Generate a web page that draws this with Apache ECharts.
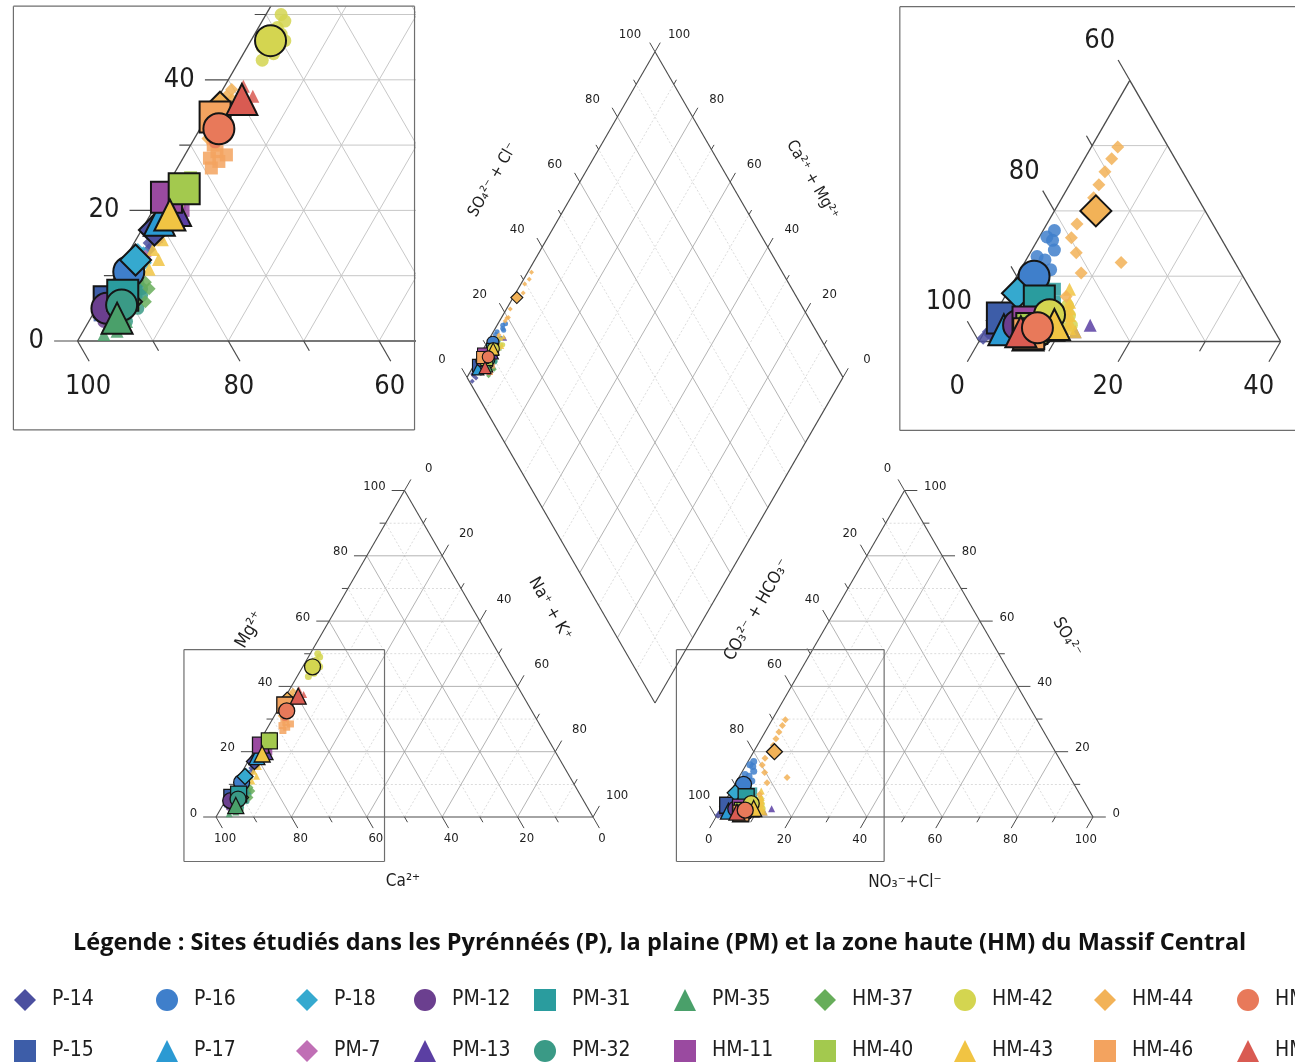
<!DOCTYPE html>
<html><head><meta charset="utf-8">
<script src="https://cdn.jsdelivr.net/npm/echarts@6/dist/echarts.min.js"></script>
<style>html,body{margin:0;padding:0;background:#fff}#c{width:1295px;height:1062px}</style>
</head><body><div id="c"></div>
<script>
// ---------------- DATA ----------------
const siteNames   = ['P-14','P-15','P-16','P-17','P-18','PM-7','PM-12','PM-13','PM-31','PM-32','PM-35','HM-11','HM-37','HM-40','HM-42','HM-43','HM-44','HM-46','HM-47','HM-45'];
// mean composition of each site (% meq): Mg2+, Na+ + K+, SO4 2-, NO3- + Cl-
const meanMg  = [17, 6, 10.6, 18.5, 12.4, 19, 5, 20, 7, 5.5, 3.5, 22, 6, 23.3, 46, 19.3, 35.8, 34.3, 37, 32.5];
const meanNaK = [1.7, 1.2, 1.5, 1.6, 1.5, 2.4, 1.4, 3, 2.5, 3.1, 3.5, 0.8, 3.5, 2.5, 2.6, 2.6, 1.0, 1.1, 3.3, 2.5];
const meanSO4 = [3.2, 3.6, 10, 1.8, 7.4, 2, 2.5, 2.5, 6.2, 1.5, 1, 3, 2, 2, 4.1, 2.6, 20, 1.2, 1.5, 2.1];
const meanCl  = [1.5, 1.3, 2.3, 2.4, 1.4, 3, 4, 8, 4.9, 7, 6, 5, 5, 6, 7.3, 8.7, 5.5, 6, 4.8, 6.7];
// individual samples: [Mg, Na+K, SO4, Cl]
const samplesP14  = [[15,2,0.5,0.3],[16.5,1,1,1],[18,1.5,1.5,0.5],[14,2.5,0.8,1.5]];
const samplesP15  = [[4,1,3,1],[5,1.5,4.5,0.8],[6.5,1,2.5,2],[7.5,2,4,1.5]];
const samplesP16  = [[7,2,17,1.5],[8.5,1.5,15.5,2],[10,2.5,14,3],[11.5,1,12.5,2.5],[9,3,11,4],[12,2,16,1],[10.5,1,13,1.2]];
const samplesP17  = [[16,2.5,1,3],[17.5,3,2.5,2],[19,2,3,1.5],[20,1.5,1.5,3.5]];
const samplesP18  = [[11,2,8.5,1],[12,3,6.5,2],[13.5,2,9.5,2.5],[14,1,5.5,1.8]];
const samplesPM7  = [[13,2.5,2.5,2.5],[15.5,3,1.5,3.5]];
const samplesPM12 = [[3,2,2,3],[4,1.5,3,4.5],[6,2,2.5,5],[7,3,3.5,3.5]];
const samplesPM13 = [[18,4,2.5,13.5],[19,3,1.5,12],[21,2.5,2,10]];
const samplesPM31 = [[5,3,9,4],[6,2.5,8,6],[8,3,7,5],[7.5,4,6,7],[6.5,3.5,5,6.5]];
const samplesPM32 = [[2,4,1,7],[3,5,2,8],[4,4.5,1.5,6],[5,5.5,0.8,7.5],[6,4,2.5,6.5],[7,5,1.2,8.5],[8,4.5,2,7],[9,3.5,1,6]];
const samplesPM35 = [[1,3,0.5,5],[1.5,4.5,1,6.5],[2.5,3.5,1.5,5.5],[3,5,0.8,7],[4,4,1.2,6]];
const samplesHM11 = [[19.5,3.5,3.5,5.5],[21,3,2.5,4.5],[22.5,1.5,3,6],[20,4,4,5]];
const samplesHM37 = [[5,5,2,5],[6,6,2.5,6],[8,5.5,1.5,4.5],[9,4.5,3,5.5]];
const samplesHM40 = [[21.5,2.5,2,6.5],[22.5,3,1.5,5.5],[24,2,2.5,6],[25,2.5,3,7]];
const samplesHM42 = [[43,3,3,9],[44,4,4,10],[45,2,2.5,11],[47,3.5,5,8],[48,2.5,3.5,8.5],[49,3,4.5,7.5],[50,2,2,10],[46,4.5,5.5,9]];
const samplesHM43 = [[11,4,2,11],[12.5,4.5,4,10],[14,3,6,9],[15.5,3.5,8,8],[17,2.5,1.5,12],[18.5,3,3,10.5],[20,2,5,9.5]];
const samplesHM44 = [[33,1,29.8,3.5],[34.5,1.5,28,3.6],[36,1,26,3.7],[37,2,24,3.9],[38.5,1.2,22,4.2],[31,1.8,15.9,4.3],[32,1.5,13.6,6.1],[35,0.8,12.1,12.8],[36.5,1.5,10.5,8.3],[34,2,6.9,8.1],[37.5,1,18,4]];
const samplesHM46 = [[26.5,4.5,1,6],[27.5,5,1.5,7],[28,3.5,0.8,5.5],[29,4,1.2,6.5],[30,3,2,7],[31,2.5,1,5],[32,2,1.5,6],[28.5,5.5,0.5,6.5]];
const samplesHM47 = [[35.5,4,1,5],[36,5,2,4.5],[37.5,4.5,1.5,5.5],[38,3,1,4],[39,2.5,2.5,5],[36.5,3.5,1.8,4.2]];
const samplesHM45 = [[30.5,3,2.5,7],[31.5,4,1.5,8],[33,3.5,3,6],[34,2,2,7.5]];
const siteSamples = [samplesP14,samplesP15,samplesP16,samplesP17,samplesP18,samplesPM7,samplesPM12,samplesPM13,samplesPM31,samplesPM32,samplesPM35,samplesHM11,samplesHM37,samplesHM40,samplesHM42,samplesHM43,samplesHM44,samplesHM46,samplesHM47,samplesHM45];
// axis ticks
const tickValues  = [0,10,20,30,40,50,60,70,80,90,100];
const gridValues  = [10,20,30,40,50,60,70,80,90];
const labelValues = [0,20,40,60,80,100];
const zoomAnionLimit = 40;   // top-right inset shows CO3+HCO3 from 60 to 100
// legend layout (column-wise)
const legendCols = [['P-14','P-15'],['P-16','P-17'],['P-18','PM-7'],['PM-12','PM-13'],['PM-31','PM-32'],['PM-35','HM-11'],['HM-37','HM-40'],['HM-42','HM-43'],['HM-44','HM-46'],['HM-45','HM-47']];
const legendTitle = 'Légende : Sites étudiés dans les Pyrénnéés (P), la plaine (PM) et la zone haute (HM) du Massif Central';

// ---------------- STYLE ----------------
const siteSymbols = ['diamond','rect','circle','triangle','diamond','diamond','circle','triangle','rect','circle','triangle','rect','diamond','rect','circle','triangle','diamond','rect','triangle','circle'];
const siteColors  = ['#4b4f9f','#3d5da8','#3f7fcb','#2b9ad3','#35a9cf','#c06fb5','#6b3f8f','#5b3fa3','#2a9c9e','#3a9a86','#4aa06a','#9a4aa0','#67ad5a','#a3c94e','#d4d550','#f1c443','#f2b257','#f3a35f','#d95b52','#e8795a'];
const meanDrawOrder = [12,5,7,0,1,2,3,4,6,8,9,10,11,13,14,15,16,17,18,19];
const FONT = '"DejaVu Sans Condensed","DejaVu Sans",sans-serif';
const U = Math.sqrt(3) / 2;
const STY = {
  edge:  {stroke:'#4a4a4a', lineWidth:1.1},
  major: {stroke:'#a0a0a0', lineWidth:0.8},
  minor: {stroke:'#cdcdcd', lineWidth:0.7, lineDash:[2,2]},
  light: {stroke:'#c4c4c4', lineWidth:0.8},
  tick:  {stroke:'#4a4a4a', lineWidth:1},
  box:   {stroke:'#6e6e6e', lineWidth:1.2}
};
const zoomBoxCat = [-8.5, -11.8, 44.7, 44.4];
const zoomBoxAn  = [-10.5, -11.8, 44.6, 44.4];

// panels: origin (px) of ternary unit (0,0), px per unit, unit extent (grid kept inside canvas)
const panels = [
  {id:'cat',  ox:216,  oy:817,   s:3.77, x0:-25, x1:125, y0:-25, y1:105, clip:false, big:16, small:7,  bw:1.3, lw:1},
  {id:'an',   ox:716,  oy:817,   s:3.77, x0:-25, x1:125, y0:-25, y1:105, clip:false, big:16, small:7,  bw:1.3, lw:1},
  {id:'dia',  ox:655,  oy:703,   s:3.76, x0:-62, x1:62,  y0:-5,  y1:185, clip:false, big:12, small:5,  bw:1.1, lw:1},
  {id:'catZ', ox:77.5, oy:341,   s:7.54, x0:zoomBoxCat[0], x1:zoomBoxCat[2], y0:zoomBoxCat[1], y1:zoomBoxCat[3], clip:true, big:31, small:13, bw:2, lw:1.2, box:zoomBoxCat},
  {id:'anZ',  ox:979,  oy:341.5, s:7.54, x0:zoomBoxAn[0],  x1:41.9,          y0:zoomBoxAn[1],  y1:zoomBoxAn[3],  clip:true, big:31, small:13, bw:2, lw:1.2, box:zoomBoxAn, openRight:true}
];

// ---------------- TRANSFORMS ----------------
function catXY(mg, nak) { return [nak + mg / 2, mg * U]; }
function anXY(so4, cl)  { return [cl + so4 / 2, so4 * U]; }
function diaXY(a, b)    { return [(a - b) / 2, (a + b) * U]; } // a = SO4+Cl, b = Ca+Mg
function project(id, mg, nak, so4, cl) {
  if (id === 'cat' || id === 'catZ') return catXY(mg, nak);
  if (id === 'an' || id === 'anZ') return anXY(so4, cl);
  return diaXY(so4 + cl, 100 - nak);
}

// ---------------- FRAMES ----------------
function builder(fs) {
  const E = [];
  return {
    E,
    L: (x1,y1,x2,y2,st) => E.push({t:'l', p:[x1,y1,x2,y2], st}),
    T: (x,y,text,extra) => E.push(Object.assign({t:'t', p:[x,y], text, fs}, extra||{}))
  };
}
function triFrame(kind, o) {
  const {E, L, T} = builder(o.fs);
  gridValues.forEach(k => {
    const st = o.gridStyle || (k % 20 === 0 ? 'major' : 'minor');
    L(k/2, k*U, 100-k/2, k*U, st);
    L(k, 0, k+(100-k)/2, (100-k)*U, st);
    L(100-k, 0, (100-k)/2, (100-k)*U, st);
  });
  L(0,0,100,0,'edge'); L(0,0,50,100*U,'edge'); L(100,0,50,100*U,'edge');
  tickValues.forEach(k => {
    const len = k % 20 === 0 ? o.len : o.minLen;
    const lab = labelValues.indexOf(k) >= 0;
    let bx, by;
    if (kind === 'cat') {
      bx = k/2; by = k*U;               // Mg (left)
      L(bx, by, bx-len, by, 'tick');
      if (lab) T(bx-o.leftGap, by+o.leftDy, String(k), {align:'right'});
      bx = 100-k; by = 0;               // Ca (bottom)
      L(bx, by, bx+len*0.5, by-len*U, 'tick');
      if (lab) T(bx+o.botOff[0], by+o.botOff[1], String(k));
      bx = 50+k/2; by = (100-k)*U;      // Na+K (right)
      L(bx, by, bx+len*0.5, by+len*U, 'tick');
      if (lab) T(bx+o.sideOff[0], by+o.sideOff[1], String(k));
    } else {
      bx = k; by = 0;                   // NO3+Cl (bottom)
      L(bx, by, bx-len*0.5, by-len*U, 'tick');
      if (lab) T(bx+o.botOff[0], by+o.botOff[1], String(k));
      bx = 100-k/2; by = k*U;           // SO4 (right)
      L(bx, by, bx+len, by, 'tick');
      if (lab) T(bx+o.rightGap, by+o.rightDy, String(k), {align:'left'});
      bx = (100-k)/2; by = (100-k)*U;   // CO3+HCO3 (left)
      L(bx, by, bx-len*0.5, by+len*U, 'tick');
      if (lab) T(bx+o.sideOff[0], by+o.sideOff[1], String(k));
    }
  });
  if (o.box) { const b = o.box; L(b[0],b[1],b[2],b[1],'box'); L(b[2],b[1],b[2],b[3],'box'); L(b[2],b[3],b[0],b[3],'box'); L(b[0],b[3],b[0],b[1],'box'); }
  (o.titles||[]).forEach(tt => T(tt[0], tt[1], tt[2], {fs:tt[4], rot:tt[3]*Math.PI/180}));
  return E;
}
// anion sub-triangle (CO3+HCO3 >= 100-lim) used by the top-right inset
function anSubFrame(lim, o) {
  const {E, L, T} = builder(o.fs);
  gridValues.filter(k => k < lim).forEach(k => {
    L(k/2, k*U, lim-k/2, k*U, 'light');
    L(k, 0, k+(lim-k)/2, (lim-k)*U, 'light');
    L(k, 0, k/2, k*U, 'light');
  });
  L(0,0,lim,0,'edge'); L(0,0,lim/2,lim*U,'edge'); L(lim,0,lim/2,lim*U,'edge');
  tickValues.filter(k => k <= lim).forEach(k => {
    const len = k % 20 === 0 ? o.len : o.minLen;
    const lab = labelValues.indexOf(k) >= 0;
    L(k, 0, k-len*0.5, -len*U, 'tick');                       // NO3+Cl
    if (lab) T(k+o.botOff[0], o.botOff[1], String(k));
    const bx = k/2, by = k*U;                                  // CO3+HCO3 = 100-k
    L(bx, by, bx-len*0.5, by+len*U, 'tick');
    if (lab) T(bx+o.sideOff[0], by+o.sideOff[1], String(100-k));
  });
  return E;
}
function diaFrame(o) {
  const {E, T} = builder(o.fs);
  const L = (p1,p2,st) => E.push({t:'l', p:[p1[0],p1[1],p2[0],p2[1]], st});
  gridValues.forEach(k => {
    const st = k % 20 === 0 ? 'major' : 'minor';
    L(diaXY(k,0), diaXY(k,100), st);
    L(diaXY(0,k), diaXY(100,k), st);
  });
  L(diaXY(0,0), diaXY(0,100), 'edge'); L(diaXY(0,100), diaXY(100,100), 'edge');
  L(diaXY(100,100), diaXY(100,0), 'edge'); L(diaXY(100,0), diaXY(0,0), 'edge');
  tickValues.forEach(k => {
    const len = k % 20 === 0 ? o.len : o.minLen;
    const lab = labelValues.indexOf(k) >= 0;
    let b = diaXY(k, 100);
    L(b, [b[0]-len*0.5, b[1]+len*U], 'tick');
    if (lab) T(b[0]+o.ulOff[0], b[1]+o.ulOff[1], String(k));
    b = diaXY(100, k);
    L(b, [b[0]+len*0.5, b[1]+len*U], 'tick');
    if (lab) T(b[0]+o.urOff[0], b[1]+o.urOff[1], String(k));
  });
  (o.titles||[]).forEach(tt => T(tt[0], tt[1], tt[2], {fs:tt[4], rot:tt[3]*Math.PI/180}));
  return E;
}

const frames = {
  cat: triFrame('cat', {fs:13, len:3.4, minLen:1.6, leftGap:5.0, leftDy:1.0, botOff:[2.4,-5.8], sideOff:[6.4,5.8], box:zoomBoxCat,
        titles:[[49.6,-17.0,'Ca²⁺',0,17],[9.0,49.6,'Mg²⁺',60,18],[88.6,55.2,'Na⁺ + K⁺',-60,17]]}),
  an:  triFrame('an',  {fs:13, len:3.4, minLen:1.6, rightGap:5.2, rightDy:1.0, botOff:[-1.9,-6.1], sideOff:[-4.5,5.8], box:zoomBoxAn,
        titles:[[50.1,-17.5,'NO₃⁻+Cl⁻',0,17],[10.9,54.9,'CO₃²⁻ + HCO₃⁻',60,17],[93.1,47.7,'SO₄²⁻',-60,17]]}),
  dia: diaFrame({fs:13, len:2.8, minLen:1.4, ulOff:[-6.65,4.65], urOff:[6.4,4.65],
        titles:[[-43.1,139.1,'SO₄²⁻ + Cl⁻',60,16],[41.8,139.1,'Ca²⁺ + Mg²⁺',-60,16]]}),
  catZ: triFrame('cat', {fs:27, len:3.1, minLen:1.5, leftGap:4.45, leftDy:0, botOff:[1.4,-6.06], sideOff:[4,5.5], gridStyle:'light'}),
  anZ:  anSubFrame(zoomAnionLimit, {fs:27, len:3.1, minLen:1.5, botOff:[-2.9,-6.0], sideOff:[-4.0,5.2]})
};
function boxFrame(b, openRight) {
  const segs = [[b[0],b[1],b[2],b[1]],[b[2],b[3],b[0],b[3]],[b[0],b[3],b[0],b[1]]];
  if (!openRight) segs.push([b[2],b[1],b[2],b[3]]);
  return segs.map(p => ({t:'l', p, st:'box'}));
}

function frameSeries(gi, elems, lw, clip, z) {
  return {
    type:'custom', xAxisIndex:gi, yAxisIndex:gi, clip:clip, silent:true, z:z, animation:false,
    data: elems.map(e => [e.p[0], e.p[1]]),
    renderItem: function (params, api) {
      const e = elems[params.dataIndex];
      if (e.t === 'l') {
        const a = api.coord([e.p[0], e.p[1]]), b = api.coord([e.p[2], e.p[3]]);
        const s = STY[e.st];
        const style = {stroke:s.stroke, lineWidth:s.lineWidth*lw, fill:null};
        if (s.lineDash) style.lineDash = s.lineDash;
        return {type:'line', shape:{x1:a[0], y1:a[1], x2:b[0], y2:b[1]}, style};
      }
      const a = api.coord([e.p[0], e.p[1]]);
      return {type:'text', x:a[0], y:a[1], rotation:e.rot||0,
        style:{text:e.text, fill:'#1e1e1e', fontSize:e.fs, fontFamily:FONT, align:e.align||'center', verticalAlign:'middle'}};
    }
  };
}

// ---------------- OPTION ----------------
const grid = [], xAxis = [], yAxis = [], series = [];
panels.forEach((p, gi) => {
  grid.push({left:p.ox + p.x0*p.s, top:p.oy - p.y1*p.s, width:(p.x1-p.x0)*p.s, height:(p.y1-p.y0)*p.s, show:false});
  xAxis.push({type:'value', gridIndex:gi, min:p.x0, max:p.x1, show:false});
  yAxis.push({type:'value', gridIndex:gi, min:p.y0, max:p.y1, show:false});
  series.push(frameSeries(gi, frames[p.id], p.lw, p.clip, 1));
  if (p.box) series.push(frameSeries(gi, boxFrame(p.box, p.openRight), 1, false, 6));
  siteNames.forEach((name, i) => {
    series.push({
      type:'scatter', name, xAxisIndex:gi, yAxisIndex:gi, symbol:siteSymbols[i], symbolSize:p.small,
      data: siteSamples[i].map(r => project(p.id, r[0], r[1], r[2], r[3])),
      itemStyle:{color:siteColors[i], opacity:0.85}, z:3, silent:true, animation:false, clip:p.clip
    });
  });
  meanDrawOrder.forEach(i => {
    series.push({
      type:'scatter', name:siteNames[i], xAxisIndex:gi, yAxisIndex:gi, symbol:siteSymbols[i], symbolSize:p.big,
      data: [project(p.id, meanMg[i], meanNaK[i], meanSO4[i], meanCl[i])],
      itemStyle:{color:siteColors[i], borderColor:'#151515', borderWidth:p.bw, opacity:1}, z:4, silent:true, animation:false, clip:p.clip
    });
  });
});

const legendX = [25,167,307,425,545,685,825,965,1105,1248];
const legend = legendCols.map((names, j) => ({
  orient:'vertical', left:legendX[j]-11, top:989, padding:0, itemWidth:22, itemHeight:22, itemGap:29,
  selectedMode:false,
  data: names.map(n => { const i = siteNames.indexOf(n); return {name:n, icon:siteSymbols[i], itemStyle:{color:siteColors[i], borderWidth:0, opacity:1}}; }),
  textStyle:{fontFamily:FONT, fontSize:21, color:'#1e1e1e', padding:[0,0,0,11]}
}));

const option = {
  backgroundColor:'#ffffff',
  animation:false,
  title:{text:legendTitle, left:73, top:931, padding:0, textStyle:{fontFamily:'"Open Sans",sans-serif', fontWeight:'bold', fontSize:23.5, color:'#111'}},
  legend, grid, xAxis, yAxis, series
};
const chart = echarts.init(document.getElementById('c'), null, {renderer:'canvas'});
chart.setOption(option);
</script></body></html>
